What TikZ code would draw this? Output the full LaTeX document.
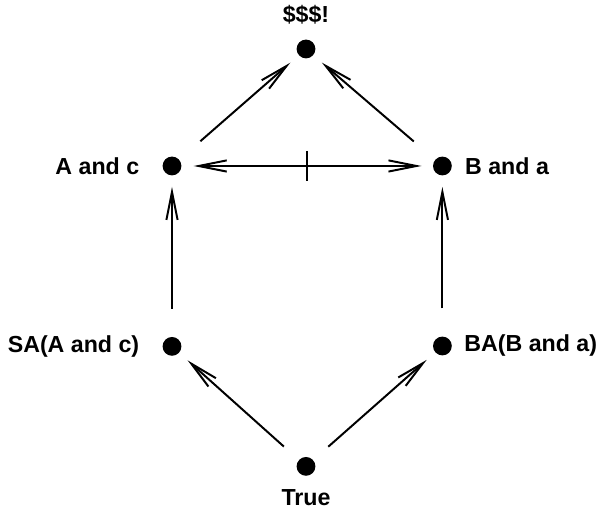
\documentclass[tikz,border=0pt]{standalone}
\usepackage{fontspec}
\setmainfont{Liberation Sans}
\usetikzlibrary{calc,math}
\usetikzlibrary{positioning,arrows.meta}

\begin{document}
\begin{tikzpicture}[font=\fontsize{16.5}{20}\selectfont\bfseries,
  dot/.style={circle, fill, inner sep=0pt, minimum size=0.47cm},
  lbl/.style={inner sep=0pt},
  arr/.style={line width=1.4pt, -{Straight Barb[length=7mm,width=2.8mm]}, shorten <=0.7cm, shorten >=0.28cm}]

\useasboundingbox (0,0) rectangle (15,12.8);

%define positions of the six points
\tikzmath{
\xl = 4.3;       %left column
\xr = 11.06;     %right column
\xm = 7.65;      %middle column
coordinate \p;
\p1 = (\xm,11.575);
\p2 = (\xl,8.65);
\p3 = (\xr,8.65);
\p4 = (\xl,4.14);
\p5 = (\xr,4.15);
\p6 = (\xm,1.14);
}

%six points
\node[dot] (top) at (\p1) {};
\node[dot] (ac) at (\p2) {};
\node[dot] (ba) at (\p3) {};
\node[dot] (sac) at (\p4) {};
\node[dot] (bba) at (\p5) {};
\node[dot] (tru) at (\p6) {};

%some labels
\node[lbl, above=0.37cm of top] (toplbl) {\$\$\$!};
\node[lbl, left=0.57cm of ac] (aclbl) {A and c};
\node[lbl, right=0.32cm of ba] (balbl) {B and a};
\node[lbl, left=0.57cm of sac] (saclbl) {SA(A and c)};
\node[lbl, right=0.3cm of bba] (bbalbl) {BA(B and a)};
\node[lbl, below=0.34cm of tru] (trulbl) {True};

%all arrows
\draw[arr] (ac) -- (top);
\draw[arr] (ba) -- (top);
\draw[arr] (sac) -- (ac);
\draw[arr] (bba) -- (ba);
\draw[arr, shorten <=0.5cm] (tru) -- (sac);
\draw[arr, shorten <=0.5cm] (tru) -- (bba);

%the two-way arrow with its mark
\draw[arr, {Straight Barb[length=7mm,width=2.8mm]}-{Straight Barb[length=7mm,width=2.8mm]}, shorten <=0.3cm]
  (ac) -- coordinate (mid) (ba);
\draw[line width=1.4pt] ($(mid)+(0,0.375)$) -- ($(mid)-(0,0.375)$);

\end{tikzpicture}
\end{document}
